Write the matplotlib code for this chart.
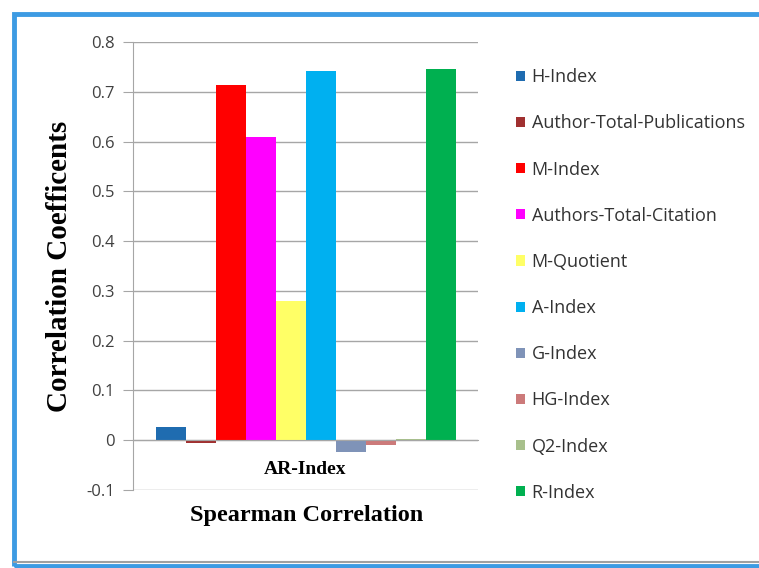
## Import libraries
import matplotlib
matplotlib.use("Agg")
import matplotlib.pyplot as plt
import numpy as np
from matplotlib.patches import Rectangle
from matplotlib.lines import Line2D

## Data
indices = ['H-Index', 'Author-Total-Publications', 'M-Index', 'Authors-Total-Citation',
           'M-Quotient', 'A-Index', 'G-Index', 'HG-Index', 'Q2-Index', 'R-Index']
values = [0.027, -0.006, 0.713, 0.609, 0.28, 0.742, -0.023, -0.01, 0.003, 0.746]
colors = ['#1F6CB0', '#A03030', '#FF0000', '#FF00FF', '#FFFF66',
          '#00B0F0', '#7F93B8', '#CC7A7A', '#A8C08C', '#00B050']
category = 'AR-Index'
y_ticks = [-0.1, 0, 0.1, 0.2, 0.3, 0.4, 0.5, 0.6, 0.7, 0.8]

serif = 'Liberation Serif'
sans = 'Open Sans'

fig = plt.figure(figsize=(7.59, 5.68), dpi=100)
ax = fig.add_axes([133/759, 78/568, 345/759, 448/568])

## One bar per index inside the single category
x = np.arange(len(indices))
for i in range(len(indices)):
    ax.bar(x[i], values[i], width=1.0, color=colors[i], label=indices[i], zorder=3)

ax.set_xlim(-1.25, len(indices) + 0.25)
ax.set_ylim(-0.1, 0.8)
ax.set_yticks(y_ticks)
ax.set_yticklabels(['-0.1', '0', '0.1', '0.2', '0.3', '0.4', '0.5', '0.6', '0.7', '0.8'],
                   fontname=sans, fontsize=12, color='#404040')
ax.yaxis.grid(True, color='#A6A6A6', lw=1.0, zorder=0)

for s in ['top', 'right']:
    ax.spines[s].set_visible(False)
ax.spines['left'].set_color('#A6A6A6')
ax.spines['bottom'].set_position(('data', 0))
ax.spines['bottom'].set_color('#A6A6A6')
ax.spines['bottom'].set_zorder(4)
ax.tick_params(axis='y', length=7, color='#A6A6A6', pad=6)

ax.set_xticks([(len(indices) - 1) / 2])
ax.set_xticklabels([category], fontname=serif, fontweight='bold', fontsize=14)
ax.tick_params(axis='x', length=0, pad=15)

## Titles
fig.text(307/759, 1 - 515/568, 'Spearman Correlation', fontname=serif, fontweight='bold',
         fontsize=17.5, ha='center', va='center')
fig.text(60/759, 1 - 266/568, 'Correlation Coefficents', fontname=serif, fontweight='bold',
         fontsize=21, rotation=90, ha='center', va='center')

## Legend
leg = fig.legend(loc='upper left', bbox_to_anchor=(500/759, 1 - 52/568), frameon=False,
                 prop={'family': sans, 'size': 13}, labelcolor='#333333',
                 handlelength=0.5, handleheight=0.5, handletextpad=0.35, labelspacing=1.56)

## Blue window frame
fig.patches.append(Rectangle((14/759, 2/568), 760/759, 552/568, transform=fig.transFigure,
                             fill=False, edgecolor='#3D9BE3', lw=3.5))
fig.lines.append(Line2D([14/759, 1], [6/568, 6/568], transform=fig.transFigure,
                        color='#A0A0A0', lw=1.5))

fig.savefig('out.png', dpi=100)
